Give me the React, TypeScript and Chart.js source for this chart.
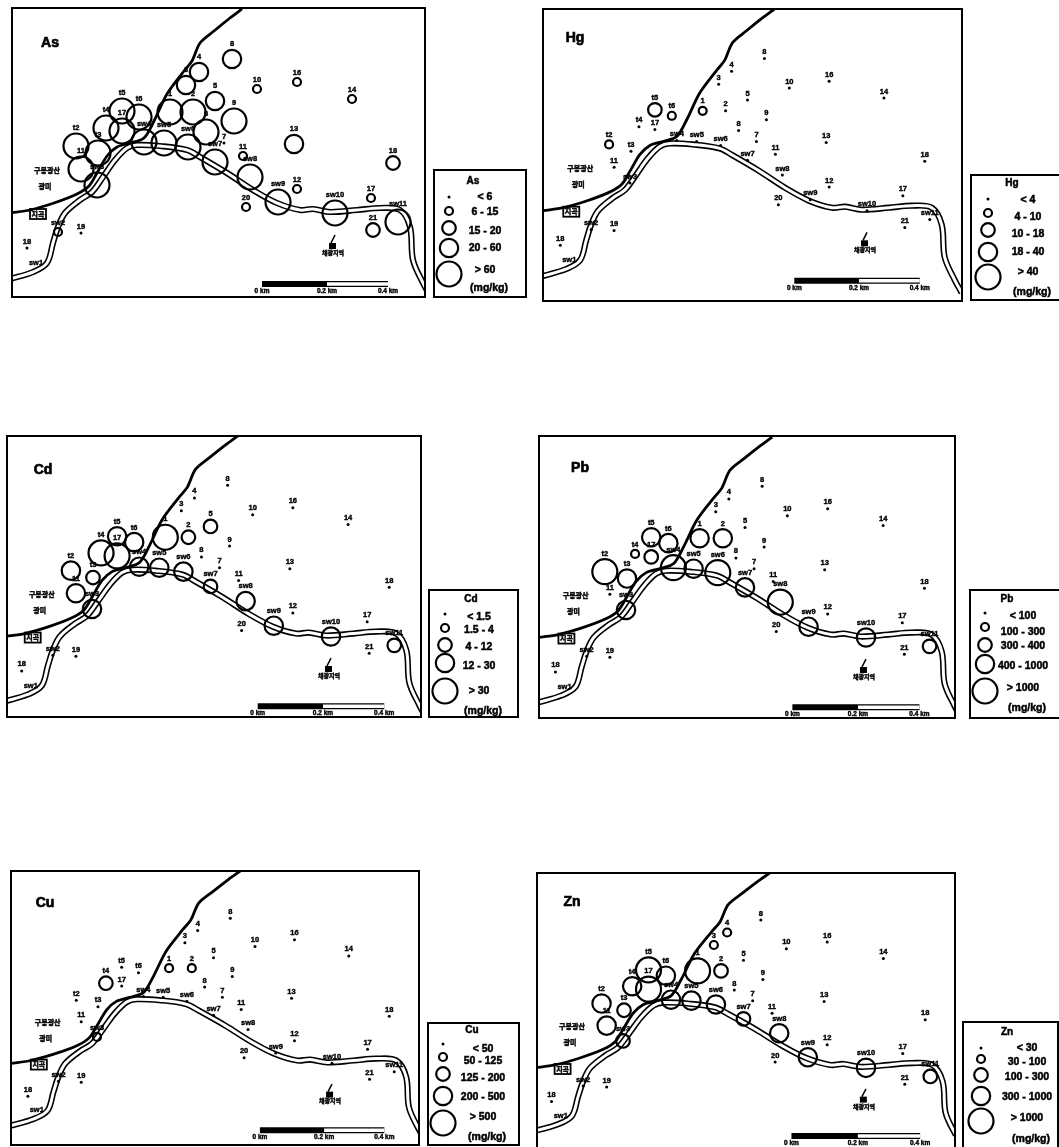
import React, { useEffect, useRef } from "react";
import { Chart, registerables } from "chart.js";

Chart.register(...registerables);

// ---------- data (map units) ----------
const stationLabels = ["1","2","3","4","5","8","7","8","9","10","11","12","13","14","16","17","18","20","21","19","18","t2","11","t3","t4","t5","17","t6","sw1","sw2","sw3","sw4","sw5","sw6","sw7","sw8","sw9","sw10","sw11"];
const stationX = [170,193,186,199,215,232,224,206,234,257,243,297,294,352,297,371,393,246,373,81,27,76,81,98,106,122,122,139,36,58,97,144,164,188,215,250,278,335,398];
const stationY = [112,112,85,72,101,59,143,132,121,89,156,189,144,99,82,198,163,207,230,233,248,146,169,153,128,111,131,117,268,232,185,142,143,147,162,177,202,213,222];

// concentration class per station (-1 no symbol, 0 lowest ... 4 highest)
const classAs = [4,4,3,3,3,3,0,4,4,1,1,1,3,1,1,1,2,1,2,0,0,4,4,4,4,4,4,4,-1,1,4,4,4,4,4,4,4,4,4];
const classHg = [1,0,0,0,0,0,0,0,0,0,0,0,0,0,0,0,0,0,0,0,0,1,0,0,0,2,0,1,-1,0,0,0,0,0,0,0,0,0,0];
const classCd = [4,2,0,0,2,0,0,0,0,0,0,0,0,0,0,0,0,0,0,0,0,3,3,2,4,3,4,3,-1,0,3,3,3,3,2,3,3,3,2];
const classPb = [3,3,0,0,0,0,0,0,0,0,0,0,0,0,0,0,0,0,0,0,0,4,0,3,1,3,2,3,-1,0,3,4,3,4,3,4,3,3,2];
const classCu = [1,1,0,0,0,0,0,0,0,0,0,0,0,0,0,0,0,0,0,0,0,0,0,0,2,0,0,0,-1,0,1,0,0,0,0,0,0,0,0];
const classZn = [4,2,1,1,0,0,0,0,0,0,0,0,0,0,0,0,0,0,0,0,0,3,3,2,3,4,4,3,-1,0,2,3,3,3,2,3,3,3,2];

const legendAs = ["< 6","6 - 15","15 - 20","20 - 60","> 60"];
const legendHg = ["< 4","4 - 10","10 - 18","18 - 40","> 40"];
const legendCd = ["< 1.5","1.5 - 4","4 - 12","12 - 30","> 30"];
const legendPb = ["< 100","100 - 300","300 - 400","400 - 1000","> 1000"];
const legendCu = ["< 50","50 - 125","125 - 200","200 - 500","> 500"];
const legendZn = ["< 30","30 - 100","100 - 300","300 - 1000","> 1000"];
const unitLabel = "(mg/kg)";

const coastX = [10,30,54,77,89,97,107,117,130,144,154,167,184,192,200,214,230,242];
const coastY = [213,210,203,194,186,173,156,147,143,138,121,94,71,61,43,31,18,9];
const canalX = [10,33,47,53,58,65,80,92,103,115,127,137,160,187,200,227,253,277,300,313,330,357,380,400,410,413,423,430];
const canalY = [279,272,263,243,227,213,200,192,177,160,148,145,146,150,157,173,190,203,210,209,212,210,208,210,227,260,283,296];
const scaleBarX = [262,327,388];
const scaleBarY = 284;
const scaleBarTicks = ["0 km","0.2 km","0.4 km"];
const mineName = ["구봉광산","광미"];
const villageName = "채광지역";
const boxName = "지곡";

// ---------- styling / layout ----------
const radii = [1.5,4,6.8,9.2,12.5];
const PAD = 3;
const inkFont = "'Liberation Sans', Arial, sans-serif";

const mapPanels = [
  { name:"As", classes:classAs, frame:[12,8,425,297], ax:[97,335], ay:[10,184], title:[50,43] },
  { name:"Hg", classes:classHg, frame:[543,9,962,301], ax:[630,867], ay:[10,182], title:[575,38] },
  { name:"Cd", classes:classCd, frame:[7,436,421,717], ax:[92,331], ay:[437,608], title:[43,470] },
  { name:"Pb", classes:classPb, frame:[539,436,955,718], ax:[626,866], ay:[438,609], title:[580,468] },
  { name:"Cu", classes:classCu, frame:[11,871,419,1145], ax:[97,332], ay:[872,1036], title:[45,903] },
  { name:"Zn", classes:classZn, frame:[537,873,955,1152], ax:[623,866], ay:[873,1040], title:[572,902] },
];

const legendPanels = [
  { name:"As", labels:legendAs, box:[434,170,526,297], sx:449, sy:[197,211,228,248,274], tx:485, ty:[197,212,231,248,270,288], title:[473,181] },
  { name:"Hg", labels:legendHg, box:[971,175,1064,300], sx:988, sy:[199,213,230,252,277], tx:1028, ty:[200,217,234,252,272,292], title:[1012,183] },
  { name:"Cd", labels:legendCd, box:[429,590,518,717], sx:445, sy:[614,628,645,663,691], tx:479, ty:[617,630,647,666,691,711], title:[471,599] },
  { name:"Pb", labels:legendPb, box:[970,590,1064,718], sx:985, sy:[613,627,645,664,691], tx:1023, ty:[616,632,646,666,688,708], title:[1007,599] },
  { name:"Cu", labels:legendCu, box:[428,1023,519,1145], sx:443, sy:[1044,1057,1074,1096,1123], tx:483, ty:[1049,1061,1078,1097,1117,1137], title:[472,1030] },
  { name:"Zn", labels:legendZn, box:[963,1022,1058,1152], sx:981, sy:[1048,1059,1075,1096,1121], tx:1027, ty:[1048,1062,1077,1097,1118,1139], title:[1007,1032] },
];

const zip = (xs: number[], ys: number[]) => xs.map((x, i) => ({ x, y: ys[i] }));

function windowOf(lo: number, hi: number, mapA: number, mapB: number, absA: number, absB: number) {
  const b = (absB - absA) / (mapB - mapA);
  return { min: mapA + (lo - absA) / b, max: mapA + (hi - absA) / b };
}

const baseOptions = (xr: any, yr: any, padding: number) => ({
  responsive: false,
  animation: false,
  devicePixelRatio: 1,
  events: [],
  layout: { padding, autoPadding: false },
  plugins: { legend: { display: false }, tooltip: { enabled: false } },
  scales: {
    x: { type: "linear", display: false, min: xr.min, max: xr.max },
    y: { type: "linear", display: false, reverse: true, min: yr.min, max: yr.max },
  },
});

function symbolStyle(classes: number[]) {
  return {
    showLine: false,
    clip: false,
    order: 0,
    pointStyle: "circle",
    pointRadius: classes.map((c) => (c < 0 ? 0 : radii[c])),
    pointBackgroundColor: classes.map((c) => (c === 0 ? "#000" : "rgba(0,0,0,0)")),
    pointBorderColor: "#000",
    pointBorderWidth: classes.map((c) => (c <= 0 ? 0 : 2.2)),
  };
}

function text(ctx: any, s: string, x: number, y: number, font: string, heft = 0.4) {
  ctx.font = font;
  ctx.fillStyle = "#000";
  ctx.strokeStyle = "#000";
  ctx.textAlign = "center";
  ctx.textBaseline = "middle";
  ctx.lineWidth = heft;
  ctx.strokeText(s, x, y);
  ctx.fillText(s, x, y);
}

function mapConfig(p: any) {
  const [L, T, R, B] = p.frame;
  const xr = windowOf(L, R, 97, 335, p.ax[0], p.ax[1]);
  const yr = windowOf(T, B, 10, 184, p.ay[0], p.ay[1]);
  const ink = {
    id: "mapInk",
    afterDatasetsDraw(chart: any) {
      const { ctx, chartArea: a, scales } = chart;
      const px = (v: number) => scales.x.getPixelForValue(v);
      const py = (v: number) => scales.y.getPixelForValue(v);
      ctx.save();
      ctx.strokeStyle = "#000";
      ctx.lineWidth = 2;
      ctx.strokeRect(a.left, a.top, a.right - a.left, a.bottom - a.top);
      stationLabels.forEach((s, i) => {
        const c = p.classes[i];
        const r = c < 0 ? 0 : radii[c];
        text(ctx, s, px(stationX[i]), py(stationY[i]) - r - (c <= 0 ? 5 : 5.5), `bold 7.5px ${inkFont}`);
      });
      text(ctx, mineName[0], px(47), py(170), `bold 7px 'Noto Sans CJK KR'`);
      text(ctx, mineName[1], px(45), py(186), `bold 7px 'Noto Sans CJK KR'`);
      ctx.strokeStyle = "#000";
      ctx.lineWidth = 1.8;
      ctx.strokeRect(px(30), py(209), 16, 10);
      text(ctx, boxName, px(30) + 8, py(209) + 5, `bold 7px 'Noto Sans CJK KR'`);
      // mine flag
      ctx.fillStyle = "#000";
      ctx.fillRect(px(329), py(243), 7, 6);
      ctx.beginPath();
      ctx.moveTo(px(331), py(243));
      ctx.lineTo(px(335), py(235));
      ctx.strokeStyle = "#000";
      ctx.lineWidth = 1.5;
      ctx.stroke();
      text(ctx, villageName, px(333), py(253), `bold 6px 'Noto Sans CJK KR'`);
      scaleBarX.forEach((v, i) => text(ctx, scaleBarTicks[i], px(v), py(scaleBarY) + 7, `bold 6.5px ${inkFont}`));
      text(ctx, p.name, p.title[0] - (L - PAD), p.title[1] - (T - PAD), `bold 14px ${inkFont}`, 0.7);
      ctx.restore();
    },
  };
  return {
    type: "scatter",
    data: {
      datasets: [
        { data: zip(stationX, stationY), ...symbolStyle(p.classes) },
        { data: zip(canalX, canalY), showLine: true, pointRadius: 0, borderColor: "#fff", borderWidth: 3, tension: 0.35, order: 1 },
        { data: zip(canalX, canalY), showLine: true, pointRadius: 0, borderColor: "#000", borderWidth: 6.2, tension: 0.35, order: 2 },
        { data: zip(coastX, coastY), showLine: true, pointRadius: 0, borderColor: "#000", borderWidth: 2.8, tension: 0.3, order: 3 },
        { data: zip(scaleBarX.slice(1), [scaleBarY, scaleBarY]), showLine: true, pointRadius: 0, borderColor: "#fff", borderWidth: 3.5, order: 4 },
        { data: zip(scaleBarX, scaleBarX.map(() => scaleBarY)), showLine: true, pointRadius: 0, borderColor: "#000", borderWidth: 6, order: 5 },
      ],
    },
    options: baseOptions(xr, yr, PAD),
    plugins: [ink],
  };
}

function legendConfig(p: any) {
  const [L, T, R, B] = p.box;
  const ink = {
    id: "legendInk",
    afterDatasetsDraw(chart: any) {
      const { ctx, chartArea: a, scales } = chart;
      const px = (v: number) => scales.x.getPixelForValue(v);
      const py = (v: number) => scales.y.getPixelForValue(v);
      ctx.save();
      ctx.strokeStyle = "#000";
      ctx.lineWidth = 2;
      ctx.strokeRect(a.left, a.top, a.right - a.left, a.bottom - a.top);
      text(ctx, p.name, px(p.title[0]), py(p.title[1]), `bold 10px ${inkFont}`, 0.5);
      p.labels.forEach((s: string, i: number) => text(ctx, s, px(p.tx), py(p.ty[i]), `bold 10.5px ${inkFont}`, 0.5));
      text(ctx, unitLabel, px(p.tx + 4), py(p.ty[5]), `bold 10.5px ${inkFont}`, 0.5);
      ctx.restore();
    },
  };
  const classes = radii.map((_, i) => i);
  return {
    type: "scatter",
    data: {
      datasets: [{ data: p.sy.map((y: number) => ({ x: p.sx, y })), ...symbolStyle(classes) }],
    },
    options: baseOptions({ min: L, max: R }, { min: T, max: B }, PAD),
    plugins: [ink],
  };
}

function ChartBox({ rect, make }: { rect: number[]; make: () => any }) {
  const ref = useRef<HTMLCanvasElement | null>(null);
  const [L, T, R, B] = rect;
  const w = R - L + PAD * 2;
  const h = B - T + PAD * 2;
  useEffect(() => {
    const chart = new Chart(ref.current as any, make());
    return () => chart.destroy();
  }, []);
  return (
    <canvas
      ref={ref}
      width={w}
      height={h}
      style={{ position: "absolute", left: L - PAD, top: T - PAD, width: w, height: h, filter: "blur(0.6px)" }}
    />
  );
}

export default function App() {
  return (
    <div style={{ position: "absolute", left: 0, top: 0, width: 1059, height: 1147, overflow: "hidden", background: "#fff" }}>
      {mapPanels.map((p) => (
        <ChartBox key={"m" + p.name} rect={p.frame} make={() => mapConfig(p)} />
      ))}
      {legendPanels.map((p) => (
        <ChartBox key={"l" + p.name} rect={p.box} make={() => legendConfig(p)} />
      ))}
    </div>
  );
}
